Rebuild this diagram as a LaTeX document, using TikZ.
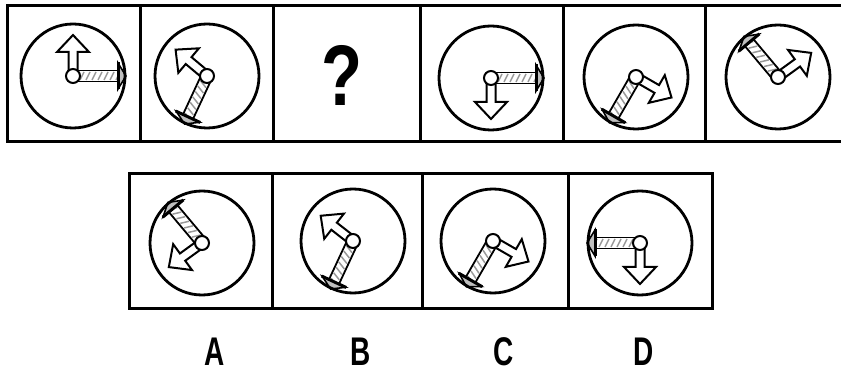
\documentclass[tikz,border=0pt]{standalone}
\usepackage{fontspec}
\setmainfont{Liberation Sans}
\tikzset{
  boxline/.style={line width=3pt},
  clockface/.style={circle,draw,line width=2.8pt,minimum size=104pt,inner sep=0pt},
  hub/.style={circle,draw,fill=white,line width=2pt,minimum size=14pt,inner sep=0pt},
  plainarrow/.style={draw,fill=white,line width=2pt,line join=miter},
  handline/.style={line width=1.8pt},
  hatch/.style={draw=black!40,line width=1.5pt},
  caphead/.style={draw,fill=black!25,line width=1.6pt,line join=miter},
  capbar/.style={line width=3pt},
  lbl/.style={inner sep=0pt,font=\fontsize{40}{40}\selectfont\bfseries},
  qmark/.style={inner sep=0pt,font=\fontsize{86}{86}\selectfont\bfseries}
}
\newcommand\clockfig[5]{%
  \begin{scope}[shift={(#2,#3)}]
    \begin{scope}[rotate=#5]
      \begin{scope}
        \clip (0,-5.5) rectangle (45,5.5);
        \foreach \t in {-6,0,...,45} \draw[hatch] (\t+1,4) -- (\t+5,-4);
      \end{scope}
      \draw[handline] (0,-5.5) -- (45,-5.5) (0,5.5) -- (45,5.5);
      \draw[caphead] (45,-13) -- (53,0) -- (45,13) -- cycle;
      \draw[capbar] (45,-13.5) -- (45,13.5);
    \end{scope}
    \begin{scope}[rotate=#4]
      \draw[plainarrow] (0,-4.5) -- (24,-4.5) -- (24,-16) -- (41,0) -- (24,16) -- (24,4.5) -- (0,4.5) -- cycle;
    \end{scope}
    \node[clockface] (#1) at (0,0) {};
    \node[hub] (#1h) at (0,0) {};
  \end{scope}}
\begin{document}
\begin{tikzpicture}[x=1pt,y=-1pt]
\useasboundingbox (0,0) rectangle (841,374);
% top row frames
\draw[boxline] (850,6) -- (7.5,6) -- (7.5,141.5) -- (850,141.5);
\foreach \xx in {140,273,420,563,705} \draw[boxline] (\xx,6) -- (\xx,141.5);
% bottom row frames
\draw[boxline] (129.5,174) rectangle (712,308);
\foreach \xx in {272,422,568} \draw[boxline] (\xx,174) -- (\xx,308);
% top row clocks
\clockfig{c1}{73}{76}{90}{0}
\clockfig{c2}{207}{76}{140}{245}
\node[qmark] (q) at (342,75) {\scalebox{0.78}[1]{?}};
\clockfig{c4}{491}{78}{270}{0}
\clockfig{c5}{636}{77}{-30}{240}
\clockfig{c6}{778}{77}{36}{130}
% options
\clockfig{oa}{202}{243}{216}{130}
\clockfig{ob}{353}{241}{142}{245}
\clockfig{oc}{493}{241}{-30}{240}
\clockfig{od}{640}{243}{270}{180}
\node[lbl] (la) at (215,352) {\scalebox{0.7}[1]{A}};
\node[lbl] (lb) at (361,352) {\scalebox{0.7}[1]{B}};
\node[lbl] (lc) at (504,352) {\scalebox{0.7}[1]{C}};
\node[lbl] (ld) at (644,352) {\scalebox{0.7}[1]{D}};
\end{tikzpicture}
\end{document}
